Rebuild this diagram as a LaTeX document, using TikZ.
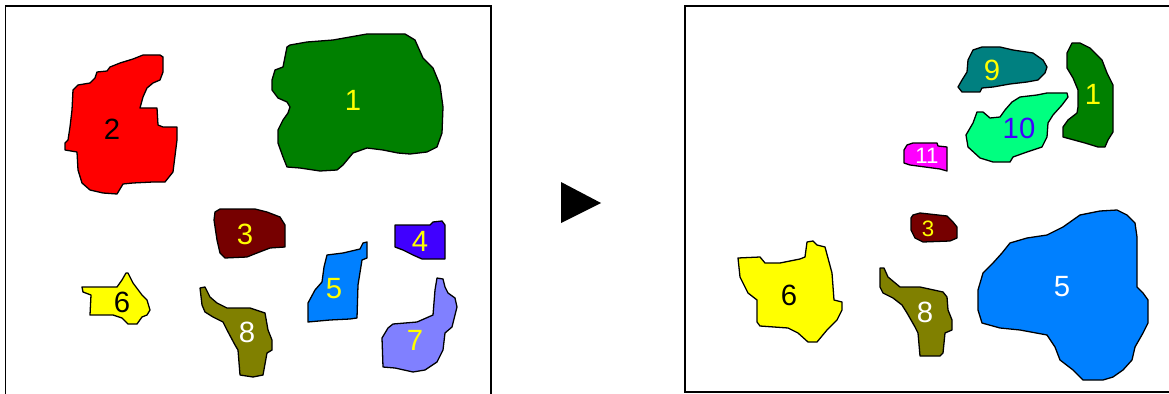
\documentclass[tikz,border=0pt]{standalone}
\usepackage{fontspec}
\setmainfont{Liberation Sans}
\usepackage{tikz}
\usepackage{xcolor}
\definecolor{regred}{RGB}{255,0,0}
\definecolor{reggreen}{RGB}{0,128,0}
\definecolor{regmaroon}{RGB}{118,0,0}
\definecolor{regviolet}{RGB}{64,0,255}
\definecolor{regblue}{RGB}{0,128,255}
\definecolor{regyellow}{RGB}{255,255,0}
\definecolor{regperi}{RGB}{128,128,255}
\definecolor{regolive}{RGB}{128,128,0}
\definecolor{regteal}{RGB}{0,128,128}
\definecolor{regspring}{RGB}{0,255,128}
\definecolor{regmagenta}{RGB}{255,0,255}
\tikzset{
  region/.style={draw=black,line width=1.1pt,line join=round},
  frame/.style={draw=black,line width=1.7pt},
  lbl/.style={inner sep=0pt,font=\fontsize{25}{25}\selectfont},
  lbls/.style={inner sep=0pt,font=\fontsize{19}{19}\selectfont},
}
\begin{document}
\begin{tikzpicture}[x=0.03cm,y=-0.03cm]
  \useasboundingbox (0,0) rectangle (1169,394);
  \clip (0,0) rectangle (1169,394);
  % ---- left panel: before ----
  \draw[frame] (5.5,420) -- (5.5,6) -- (491,6) -- (491,420);
  % region 2
  \draw[region,fill=regred] (163,57) -- (163,72) -- (160,80) -- (153,83) -- (147,88) -- (143,97)
    -- (140,108) -- (157,108) -- (158,125) -- (163,127) -- (177,127) -- (177,140) -- (173,172)
    -- (165,182) -- (153,182) -- (133,183) -- (123,184) -- (117,194) -- (103,193) -- (90,190)
    -- (82,183) -- (78,170) -- (77,152) -- (65,150) -- (65,143) -- (68,140) -- (70,127)
    -- (72,110) -- (73,90) -- (78,85) -- (90,83) -- (95,78) -- (97,72) -- (107,71) -- (110,67)
    -- (120,63) -- (133,59) -- (143,55) -- (160,55) -- cycle;
  % region 1
  \draw[region,fill=reggreen] (290,45) -- (307,42) -- (333,40) -- (367,34) -- (405,34) -- (415,40)
    -- (423,58) -- (433,68) -- (440,85) -- (443,107) -- (442,133) -- (437,147) -- (427,152)
    -- (410,154) -- (398,153) -- (383,150) -- (367,148) -- (353,153) -- (343,165) -- (337,170)
    -- (320,171) -- (300,168) -- (287,167) -- (283,157) -- (278,143) -- (278,130) -- (283,120)
    -- (288,113) -- (290,107) -- (287,102) -- (278,98) -- (272,90) -- (272,80) -- (275,70)
    -- (283,67) -- (285,57) -- (287,47) -- cycle;
  % region 3
  \draw[region,fill=regmaroon] (215,212) -- (220,209) -- (255,209) -- (267,212) -- (280,217)
    -- (285,225) -- (285,247) -- (270,248) -- (257,253) -- (247,257) -- (225,258) -- (220,253)
    -- (217,240) -- (214,220) -- cycle;
  % region 4
  \draw[region,fill=regviolet] (395,225) -- (430,225) -- (433,222) -- (442,221) -- (445,225)
    -- (445,259) -- (422,259) -- (413,255) -- (403,250) -- (395,247) -- cycle;
  % region 5
  \draw[region,fill=regblue] (327,255) -- (343,253) -- (360,249) -- (363,243) -- (367,242)
    -- (367,258) -- (362,260) -- (358,285) -- (357,318) -- (350,319) -- (330,320) -- (308,322)
    -- (308,303) -- (315,290) -- (322,282) -- (324,267) -- cycle;
  % region 6
  \draw[region,fill=regyellow] (82,287) -- (88,287) -- (117,287) -- (122,280) -- (126,273)
    -- (128,273) -- (133,283) -- (142,295) -- (147,300) -- (150,310) -- (147,315) -- (142,317)
    -- (137,324) -- (128,324) -- (122,318) -- (113,315) -- (90,315) -- (91,295) -- (83,292) -- cycle;
  % region 7
  \draw[region,fill=regperi] (437,278) -- (443,279) -- (445,287) -- (448,293) -- (455,298)
    -- (457,307) -- (452,327) -- (445,333) -- (443,350) -- (437,362) -- (425,370) -- (413,372)
    -- (395,368) -- (383,367) -- (382,338) -- (388,328) -- (393,324) -- (417,322) -- (433,315)
    -- (435,290) -- cycle;
  % region 8
  \draw[region,fill=regolive] (200,288) -- (205,287) -- (210,297) -- (217,303) -- (227,308)
    -- (250,308) -- (265,313) -- (268,330) -- (272,340) -- (272,350) -- (267,353) -- (263,375)
    -- (253,377) -- (240,375) -- (238,350) -- (235,345) -- (227,330) -- (223,322) -- (213,317)
    -- (205,312) -- (202,305) -- cycle;
  \node[lbl,text=black] (l2) at (112,129) {2};
  \node[lbl,text=regyellow] (l1) at (353,100) {1};
  \node[lbl,text=regyellow] (l3) at (245,234) {3};
  \node[lbl,text=regyellow] (l4) at (420,241) {4};
  \node[lbl,text=regyellow] (l5) at (334,289) {5};
  \node[lbl,text=black] (l6) at (122,302) {6};
  \node[lbl,text=regyellow] (l7) at (415,340) {7};
  \node[lbl,text=white] (l8) at (247,332) {8};
  % ---- the arrow between the panels ----
  \fill[black] (561,182) -- (601,203) -- (561,223) -- cycle;
  % ---- right panel: after ----
  \draw[frame] (1200,6) -- (685,6) -- (685,392) -- (1200,392);
  % region 9
  \draw[region,fill=regteal] (973,50) -- (982,47) -- (1000,47) -- (1013,50) -- (1033,53)
    -- (1043,60) -- (1047,67) -- (1045,73) -- (1038,80) -- (1027,82) -- (1010,84) -- (993,87)
    -- (982,88) -- (980,92) -- (962,92) -- (958,87) -- (962,80) -- (967,72) -- (968,60) -- cycle;
  % region 1
  \draw[region,fill=reggreen] (1072,43) -- (1080,43) -- (1090,48) -- (1102,60) -- (1107,73)
    -- (1113,85) -- (1113,132) -- (1108,140) -- (1105,147) -- (1098,147) -- (1085,143)
    -- (1063,137) -- (1063,127) -- (1068,120) -- (1077,113) -- (1078,107) -- (1078,90)
    -- (1073,78) -- (1067,68) -- (1067,53) -- cycle;
  % region 10
  \draw[region,fill=regspring] (1020,97) -- (1037,95) -- (1047,93) -- (1067,93) -- (1068,97)
    -- (1062,105) -- (1053,115) -- (1048,123) -- (1047,137) -- (1042,147) -- (1027,152)
    -- (1013,157) -- (1010,162) -- (993,162) -- (980,158) -- (968,147) -- (966,135) -- (973,123)
    -- (977,112) -- (983,112) -- (990,118) -- (1000,117) -- (1005,110) -- (1012,102) -- cycle;
  % region 11
  \draw[region,fill=regmagenta] (907,145) -- (913,143) -- (937,143) -- (938,146) -- (947,147)
    -- (947,171) -- (940,169) -- (925,167) -- (910,165) -- (904,163) -- (904,150) -- cycle;
  % region 3
  \draw[region,fill=regmaroon] (913,215) -- (920,213) -- (947,216) -- (953,222) -- (957,227)
    -- (957,238) -- (950,241) -- (923,242) -- (915,238) -- (911,230) -- (911,218) -- cycle;
  % region 6
  \draw[region,fill=regyellow] (738,258) -- (760,257) -- (765,263) -- (780,263) -- (800,259)
    -- (805,257) -- (807,242) -- (813,241) -- (817,245) -- (825,247) -- (832,273) -- (834,300)
    -- (842,302) -- (842,310) -- (837,320) -- (827,330) -- (817,342) -- (808,342) -- (798,333)
    -- (788,328) -- (760,326) -- (757,322) -- (757,300) -- (748,293) -- (740,277) -- cycle;
  % region 8
  \draw[region,fill=regolive] (880,268) -- (884,268) -- (888,277) -- (900,287) -- (920,287)
    -- (943,292) -- (947,297) -- (948,310) -- (952,320) -- (952,330) -- (945,333) -- (943,353)
    -- (940,356) -- (920,356) -- (918,333) -- (915,327) -- (907,313) -- (902,305) -- (893,298)
    -- (883,293) -- (880,287) -- cycle;
  % region 5
  \draw[region,fill=regblue] (1010,243) -- (1027,238) -- (1047,235) -- (1063,227) -- (1080,215)
    -- (1100,211) -- (1117,210) -- (1127,215) -- (1135,223) -- (1137,237) -- (1137,287)
    -- (1143,293) -- (1148,300) -- (1148,323) -- (1143,333) -- (1135,347) -- (1132,360)
    -- (1123,370) -- (1113,377) -- (1103,380) -- (1083,380) -- (1073,370) -- (1060,360)
    -- (1055,347) -- (1047,335) -- (1020,330) -- (1000,328) -- (982,323) -- (978,310)
    -- (978,290) -- (983,273) -- (993,263) -- (1002,253) -- cycle;
  \node[lbl,text=regyellow] (r9) at (992,70) {9};
  \node[lbl,text=regyellow] (r1) at (1093,94) {1};
  \node[lbl,text=regviolet] (r10) at (1019,128) {10};
  \node[lbls,text=white] (r11) at (927,156) {11};
  \node[lbls,text=regyellow] (r3) at (928,229) {3};
  \node[lbl,text=black] (r6) at (789,295) {6};
  \node[lbl,text=white] (r8) at (925,312) {8};
  \node[lbl,text=white] (r5) at (1062,287) {5};
\end{tikzpicture}
\end{document}
